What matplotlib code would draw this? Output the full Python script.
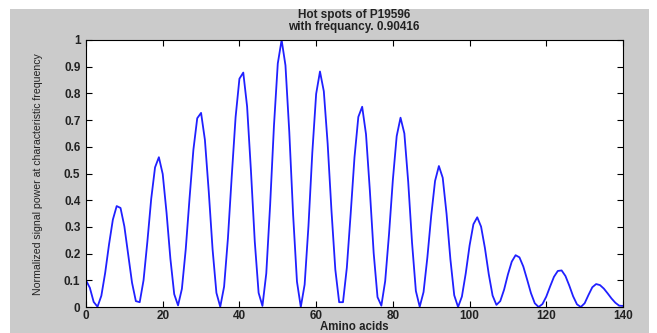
#!/usr/bin/env python3
"""Hot spots plot for P19596 (signal power at characteristic frequency)."""
import numpy as np
import matplotlib
matplotlib.use("Agg")
import matplotlib.pyplot as plt
from matplotlib.patches import Rectangle
from matplotlib import font_manager

# amino acid positions 0..140
positions = list(range(0, 141))

# normalized signal power, one value per position
power = [
    0.100, 0.072, 0.019, 0.001, 0.042, 0.128, 0.234, 0.327, 0.378, 0.371,  # 0-9
    0.302, 0.196, 0.091, 0.022, 0.018, 0.100, 0.245, 0.405, 0.523, 0.561,  # 10-19
    0.498, 0.353, 0.181, 0.048, 0.006, 0.068, 0.216, 0.408, 0.589, 0.707,  # 20-29
    0.727, 0.626, 0.433, 0.216, 0.053, 0.001, 0.076, 0.257, 0.491, 0.711,  # 30-39
    0.855, 0.878, 0.751, 0.511, 0.245, 0.053, 0.004, 0.126, 0.381, 0.678,  # 40-49
    0.912, 1.000, 0.905, 0.655, 0.345, 0.095, 0.000, 0.084, 0.304, 0.578,  # 50-59
    0.798, 0.882, 0.808, 0.612, 0.360, 0.140, 0.018, 0.018, 0.147, 0.349,  # 60-69
    0.561, 0.712, 0.750, 0.647, 0.437, 0.202, 0.037, 0.005, 0.097, 0.273,  # 70-79
    0.476, 0.640, 0.709, 0.650, 0.469, 0.241, 0.060, 0.001, 0.056, 0.186,  # 80-89
    0.342, 0.472, 0.528, 0.484, 0.349, 0.179, 0.044, 0.000, 0.039, 0.126,  # 90-99
    0.230, 0.310, 0.336, 0.301, 0.221, 0.123, 0.043, 0.008, 0.022, 0.065,  # 100-109
    0.122, 0.170, 0.194, 0.186, 0.152, 0.103, 0.052, 0.014, 0.000, 0.011,  # 110-119
    0.039, 0.077, 0.113, 0.135, 0.137, 0.116, 0.080, 0.040, 0.010, 0.000,  # 120-129
    0.014, 0.045, 0.074, 0.086, 0.082, 0.069, 0.051, 0.032, 0.016, 0.005,  # 130-139
    0.004,                                                                 # 140
]

x_ticks = [0, 20, 40, 60, 80, 100, 120, 140]
y_ticks = [0, 0.1, 0.2, 0.3, 0.4, 0.5, 0.6, 0.7, 0.8, 0.9, 1]
y_tick_labels = ["0", "0.1", "0.2", "0.3", "0.4", "0.5", "0.6", "0.7", "0.8", "0.9", "1"]

title = "Hot spots of P19596\nwith frequancy. 0.90416"
xlabel = "Amino acids"
ylabel = "Normalized signal power at characteristic frequency"

names = {f.name for f in font_manager.fontManager.ttflist}
narrow = "Liberation Sans Narrow" if "Liberation Sans Narrow" in names else "Liberation Sans"

plt.rcParams["font.family"] = "Liberation Sans"

W, H = 657, 333
fig = plt.figure(figsize=(W / 100, H / 100), dpi=100, facecolor="white")
# grey MATLAB-style figure panel
fig.add_artist(Rectangle((10 / W, 0), (649 - 10) / W, (H - 9) / H,
                         transform=fig.transFigure, facecolor="#cbcbcb",
                         edgecolor="none", zorder=0))

ax = fig.add_axes([86 / W, (H - 307) / H, (623 - 86) / W, (307 - 40) / H])
ax.set_facecolor("white")
ax.plot(positions, power, color="#2020ff", linewidth=1.3)

ax.set_xlim(0, 140)
ax.set_ylim(0, 1)
ax.set_xticks(x_ticks)
ax.set_xticklabels([str(t) for t in x_ticks])
ax.set_yticks(y_ticks)
ax.set_yticklabels(y_tick_labels)
ax.tick_params(direction="in", length=4, width=0.8, top=True, right=True,
               labelsize=8.5, pad=4, colors="black")
ax.tick_params(axis="x", pad=2.5)
for lab in ax.get_xticklabels() + ax.get_yticklabels():
    lab.set_fontweight("bold")
    lab.set_color("#222222")
for sp in ax.spines.values():
    sp.set_linewidth(0.8)

fig.text(354 / W, 1 - 21 / H, title, ha="center", va="center",
         fontsize=8.5, fontweight="bold", color="#222222", linespacing=1.05)
fig.text(354 / W, 1 - 332.5 / H, xlabel, ha="center", va="bottom",
         fontsize=8.3, fontweight="bold", color="#222222")
fig.text(38 / W, 1 - 174 / H, ylabel, ha="center", va="center",
         rotation=90, fontsize=7.6, color="#222222", family=narrow)

fig.savefig("out.png", dpi=100, facecolor="white")
